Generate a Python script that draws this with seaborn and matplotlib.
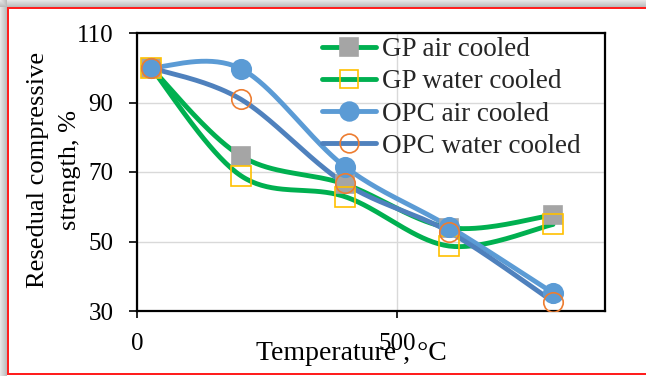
import numpy as np
import pandas as pd
import seaborn as sns
import matplotlib
matplotlib.use("Agg")
import matplotlib.pyplot as plt
from matplotlib.lines import Line2D

# Residual compressive strength after exposure, relative to the unheated value
temperature = [27, 200, 400, 600, 800]
gp_air = [100, 74.6, 66.5, 54.0, 57.6]
gp_water = [100, 68.9, 62.9, 48.7, 54.9]
opc_air = [100, 99.7, 71.5, 54.3, 35.2]
opc_water = [100, 90.9, 66.7, 52.8, 32.7]

series_names = ["GP air cooled", "GP water cooled", "OPC air cooled", "OPC water cooled"]
series_values = [gp_air, gp_water, opc_air, opc_water]

y_ticks = [30, 50, 70, 90, 110]
x_ticks = [0, 500]

styles = {
    "GP air cooled": dict(line="#00B050", marker="s", face="#A5A5A5", edge="#A5A5A5", ms=13.5),
    "GP water cooled": dict(line="#00B050", marker="s", face="none", edge="#FFC000", ms=14),
    "OPC air cooled": dict(line="#5B9BD5", marker="o", face="#5B9BD5", edge="#5B9BD5", ms=14),
    "OPC water cooled": dict(line="#4F81BD", marker="o", face="none", edge="#ED7D31", ms=14),
}

df = pd.DataFrame({
    "temperature": np.tile(temperature, len(series_names)),
    "strength": np.concatenate(series_values),
    "series": np.repeat(series_names, len(temperature)),
})


def smooth_curve(x, y, n=40):
    """Bezier smoothing through the points (Catmull-Rom style control points)."""
    pts = np.column_stack([x, y]).astype(float)
    out = []
    t = np.linspace(0, 1, n)[:, None]
    for i in range(len(pts) - 1):
        p0 = pts[i - 1] if i > 0 else pts[i]
        p1, p2 = pts[i], pts[i + 1]
        p3 = pts[i + 2] if i + 2 < len(pts) else pts[i + 1]
        c1 = p1 + (p2 - p0) / 6.0
        c2 = p2 - (p3 - p1) / 6.0
        seg = (1 - t) ** 3 * p1 + 3 * (1 - t) ** 2 * t * c1 + 3 * (1 - t) * t ** 2 * c2 + t ** 3 * p2
        out.append(seg if i == 0 else seg[1:])
    return np.vstack(out)


sns.set_theme(style="white")
plt.rcParams["font.family"] = ["Liberation Serif", "DejaVu Serif"]

W, H = 646, 376
fig = plt.figure(figsize=(W / 100, H / 100), dpi=100)

# Page background: soft grey shadow at top/left and a red frame
bg = np.ones((H, W, 3))
shade = np.linspace(0.90, 0.74, 7)
for i, v in enumerate(shade):
    bg[i, :, :] = np.minimum(bg[i, :, :], v)
    bg[:, i, :] = np.minimum(bg[:, i, :], v)
red = np.array([1.0, 0.12, 0.12])
bg[7:9, 7:, :] = red
bg[7:375, 7:9, :] = red
bg[373:375, 7:, :] = red
fig.figimage(bg, 0, 0, zorder=-10, origin="upper")

ax = fig.add_axes([137 / W, (H - 311) / H, (605 - 137) / W, (311 - 33) / H])
ax.set_facecolor("none")

# smoothed lines first, then the markers on top
for k, name in enumerate(series_names):
    sub = df[df["series"] == name]
    curve = smooth_curve(sub["temperature"].values, sub["strength"].values)
    sns.lineplot(x=curve[:, 0], y=curve[:, 1], sort=False, ax=ax, color=styles[name]["line"],
                 lw=3.5, zorder=3 + k, legend=False)
for k, name in enumerate(series_names):
    sub = df[df["series"] == name]
    st = styles[name]
    ax.plot(sub["temperature"], sub["strength"], ls="none", marker=st["marker"], ms=st["ms"],
            mfc=st["face"], mec=st["edge"], mew=1.2, zorder=10 + k)

ax.set_xlim(0, 900)
ax.set_ylim(30, 110)
ax.set_xticks(x_ticks)
ax.set_yticks(y_ticks)
ax.set_xticklabels([str(v) for v in x_ticks])
ax.set_yticklabels([str(v) for v in y_ticks])
ax.grid(True, color="#D9D9D9", lw=1.0, zorder=0)
ax.set_axisbelow(True)
for s in ax.spines.values():
    s.set_color("black")
    s.set_linewidth(1.6)
ax.tick_params(axis="y", direction="out", length=6, width=1.2, pad=11, labelsize=18, colors="black",
               left=True)
ax.tick_params(axis="x", direction="out", length=5, width=1.2, pad=11, labelsize=18, colors="black",
               bottom=True)

ax.set_ylabel("Resedual compressive\nstrength, %", fontsize=19, color="black",
              ha="center", va="center", linespacing=1.6)
ax.yaxis.set_label_coords((54 - 137) / 468, (311 - 170) / 278)
ax.set_xlabel("Temperature , °C", fontsize=20, color="black", ha="center", va="center")
ax.xaxis.set_label_coords((351 - 137) / 468, (311 - 353) / 278)

handles = []
for name in series_names:
    st = styles[name]
    handles.append(Line2D([], [], color=st["line"], lw=3.5, marker=st["marker"], ms=st["ms"] - 0.5,
                          mfc=st["face"], mec=st["edge"], mew=1.2))
fig.legend(handles, series_names, loc="upper left", bbox_to_anchor=(322 / W, (H - 37) / H),
           frameon=False, fontsize=19.5, handlelength=2.0, handletextpad=0.2, labelspacing=0.27,
           borderpad=0, borderaxespad=0)

fig.savefig("out.png", dpi=100)
